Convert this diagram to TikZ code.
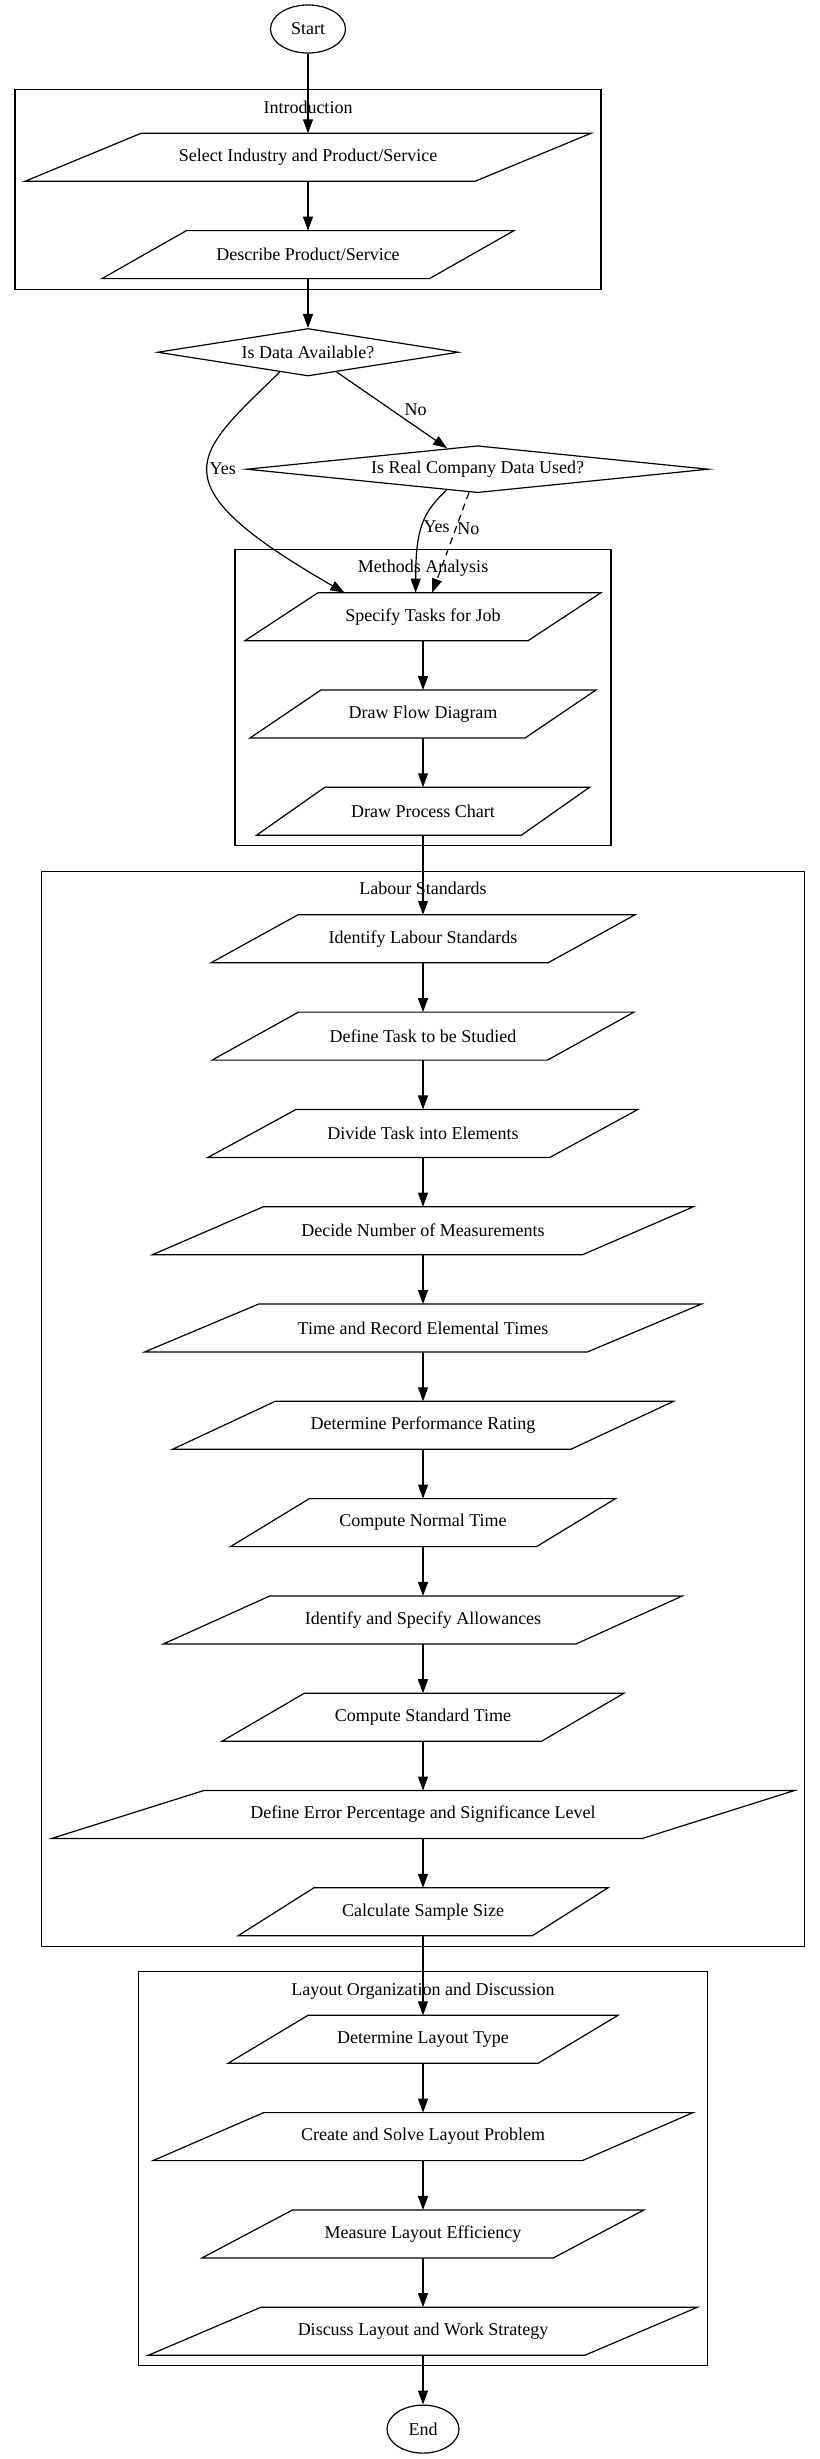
\documentclass[tikz,border=0pt]{standalone}
\usepackage{fontspec}
\setmainfont{Liberation Serif}
\usetikzlibrary{positioning}
\usetikzlibrary{shapes.geometric}
\usetikzlibrary{fit}
\usetikzlibrary{calc}
\usetikzlibrary{arrows.meta}

\begin{document}
\begin{tikzpicture}
	[x=1pt, y=1pt,
	node distance=49.3pt,
	font=\fontsize{18}{21}\selectfont,
	line width=1.2pt,
	>={Triangle[length=14pt,width=10pt]},
	terminal/.style={draw, ellipse, minimum height=48pt, inner sep=0pt},
	decision/.style={draw, diamond, inner sep=0pt},
	iobox/.style={minimum width=#1, minimum height=48pt, inner sep=0pt, outer sep=0pt},
	clustertitle/.style={inner sep=0pt, outer sep=0pt, text height=13pt, text depth=4pt},
	cluster/.style={draw, inner xsep=10pt, inner ysep=10.5pt},
	lbl/.style={inner sep=1pt}]
	
	\useasboundingbox (0,0) rectangle (819,-2459);
	
	% nodes
	\node [terminal, minimum width=75pt] (start) at (308,-29) {Start};
	\node [iobox=566pt, below=79.7pt of start] (select) {Select Industry and Product/Service};
	\node [iobox=412pt, below=of select] (describe) {Describe Product/Service};
	\node [decision, aspect=6.3, minimum width=301pt, minimum height=47.5pt, below=of describe] (isdata) {Is Data Available?};
	\node [decision, aspect=9.8, minimum width=462pt, minimum height=47pt] (realdata) at (477.5,-469.2) {Is Real Company Data Used?};
	
	\node [iobox=356pt] (tasks) at (423,-616.7) {Specify Tasks for Job};
	\node [iobox=346pt, below=of tasks] (flow) {Draw Flow Diagram};
	\node [iobox=333pt, below=of flow] (process) {Draw Process Chart};
	
	\node [iobox=424pt, below=79.5pt of process] (labstd) {Identify Labour Standards};
	\node [iobox=422pt, below=of labstd] (deftask) {Define Task to be Studied};
	\node [iobox=430pt, below=of deftask] (divide) {Divide Task into Elements};
	\node [iobox=541pt, below=of divide] (nummeas) {Decide Number of Measurements};
	\node [iobox=557pt, below=of nummeas] (record) {Time and Record Elemental Times};
	\node [iobox=501pt, below=of record] (rating) {Determine Performance Rating};
	\node [iobox=385pt, below=of rating] (normal) {Compute Normal Time};
	\node [iobox=519pt, below=of normal] (allow) {Identify and Specify Allowances};
	\node [iobox=402pt, below=of allow] (stdtime) {Compute Standard Time};
	\node [iobox=743pt, below=of stdtime] (errlevel) {Define Error Percentage and Significance Level};
	\node [iobox=370pt, below=of errlevel] (sample) {Calculate Sample Size};
	
	\node [iobox=390pt, below=79.5pt of sample] (laytype) {Determine Layout Type};
	\node [iobox=540pt, below=of laytype] (solve) {Create and Solve Layout Problem};
	\node [iobox=442pt, below=of solve] (effic) {Measure Layout Efficiency};
	\node [iobox=549pt, below=of effic] (discuss) {Discuss Layout and Work Strategy};
	\node [terminal, minimum width=72pt, below=of discuss] (finish) {End};
	
	% parallelogram outlines
	\foreach \n in {select,describe,tasks,flow,process,labstd,deftask,divide,nummeas,record,rating,normal,allow,stdtime,errlevel,sample,laytype,solve,effic,discuss}
		\draw (\n.south west) -- ($(\n.south west)!0.795!(\n.south east)$) -- (\n.north east) -- ($(\n.north west)!0.205!(\n.north east)$) -- cycle;
	
	% clusters
	\node [clustertitle, above=16pt of select] (introtitle) {Introduction};
	\node [clustertitle, above=16pt of tasks] (methtitle) {Methods Analysis};
	\node [clustertitle, above=16pt of labstd] (labtitle) {Labour Standards};
	\node [clustertitle, above=16pt of laytype] (laytitle) {Layout Organization and Discussion};
	\node [cluster, fit=(introtitle)(select)(describe)] (intro) {};
	\node [cluster, fit=(methtitle)(tasks)(flow)(process)] (methods) {};
	\node [cluster, fit=(labtitle)(labstd)(errlevel)(sample)] (labour) {};
	\node [cluster, fit=(laytitle)(laytype)(solve)(discuss)] (layout) {};
	
	% straight arrows
	\foreach \a/\b in {start/select, select/describe, describe/isdata, tasks/flow, flow/process, process/labstd, labstd/deftask, deftask/divide, divide/nummeas, nummeas/record, record/rating, rating/normal, normal/allow, allow/stdtime, stdtime/errlevel, errlevel/sample, sample/laytype, laytype/solve, solve/effic, effic/discuss, discuss/finish}
		\draw [->] (\a) -- (\b);
	\draw [->] (isdata) -- node[lbl, pos=0.6, above right] {No} (realdata);
	\draw [->, dash pattern=on 7pt off 5pt] (realdata.250) -- node[lbl, pos=0.36, right] {No} (tasks.69);
	
	% curved arrows
	\draw [->] (isdata.215) .. controls (195,-455) and (152,-482) .. (tasks.163) node[lbl, pos=0.48, right] {Yes};
	\draw [->] (realdata.214) .. controls (422,-513) and (415.7,-530) .. (tasks.107) node[lbl, pos=0.5, right] {Yes};
\end{tikzpicture}
\end{document}
